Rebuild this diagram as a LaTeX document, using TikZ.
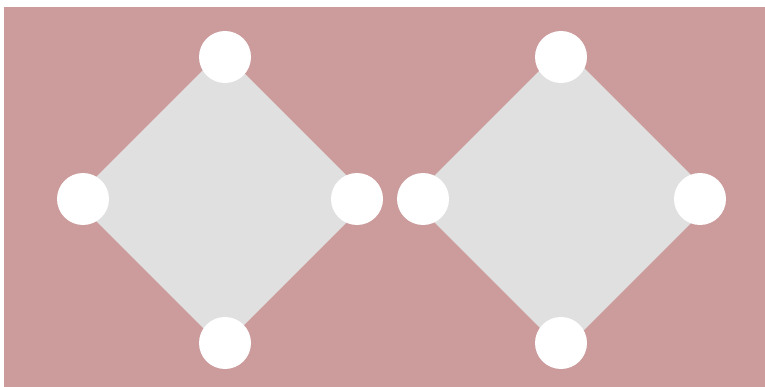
\documentclass[tikz,border=0pt]{standalone}
\usepackage{tikz}
\usetikzlibrary{calc}
\definecolor{rosebg}{RGB}{204,156,156}
\definecolor{tile}{RGB}{224,224,224}

\begin{document}
\begin{tikzpicture}[
  x=1pt, y=-1pt,
  spot/.style={circle, fill=white, minimum size=52pt, inner sep=0pt},
  tilefill/.style={fill=tile}
]
\useasboundingbox (0,0) rectangle (765,387);
\fill[rosebg] (4,7) rectangle (765,387);

% Diamonds
\coordinate (cL) at (222,199);
\coordinate (cR) at (563,199);
\fill[tilefill] ($(cL)+(0,-148)$) -- ($(cL)+(148,0)$) -- ($(cL)+(0,148)$) -- ($(cL)+(-148,0)$) -- cycle;
\fill[tilefill] ($(cR)+(0,-152)$) -- ($(cR)+(152,0)$) -- ($(cR)+(0,152)$) -- ($(cR)+(-152,0)$) -- cycle;

% Corner spots
\node[spot] (lt) at (225,57) {};
\node[spot] (lr) at (357,199) {};
\node[spot] (lb) at (225,343) {};
\node[spot] (ll) at (83,199) {};

\node[spot] (rt) at (561,57) {};
\node[spot] (rr) at (700,199) {};
\node[spot] (rb) at (561,343) {};
\node[spot] (rl) at (423,199) {};
\end{tikzpicture}
\end{document}
